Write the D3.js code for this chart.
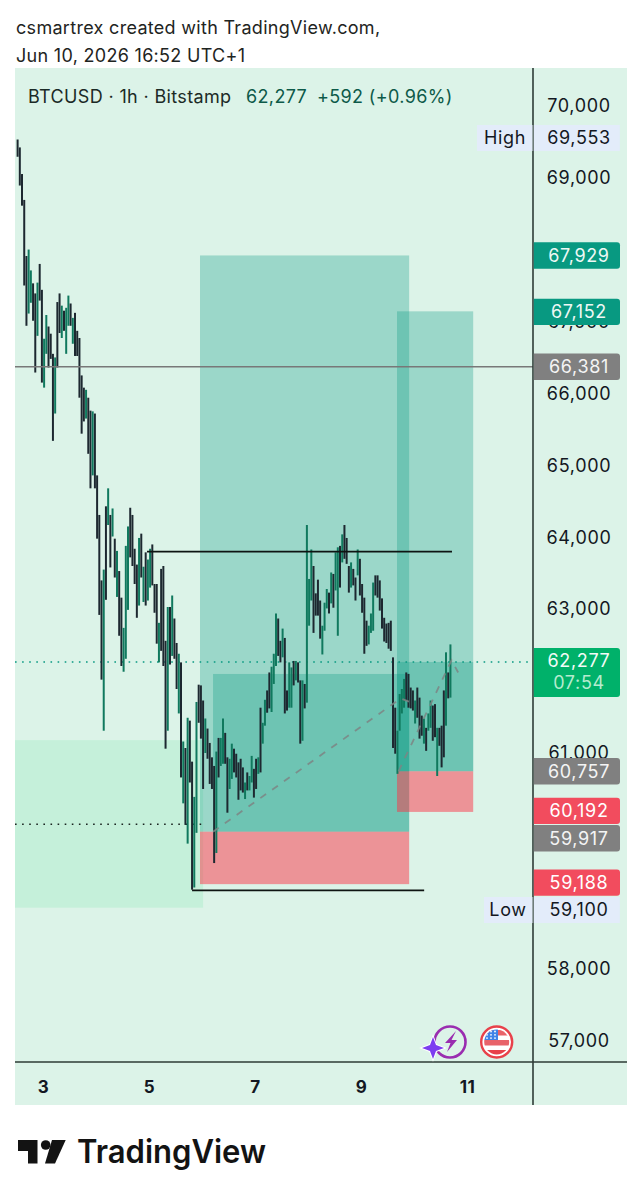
<!DOCTYPE html>
<html><head><meta charset="utf-8">
<script src="https://cdn.jsdelivr.net/npm/d3@7/dist/d3.min.js"></script>
<style>html,body{margin:0;padding:0;background:#fff}svg{display:block}text{font-family:Inter,"Open Sans",sans-serif}</style>
</head><body><svg id="c" width="642" height="1200"></svg>
<script>
// --- data ---
const headerLines = ["csmartrex created with TradingView.com,", "Jun 10, 2026 16:52 UTC+1"];
const symbolText = "BTCUSD · 1h · Bitstamp";
const quoteText = ["62,277", "+592 (+0.96%)"];
const priceTicks = [70000,69000,67000,66000,65000,64000,63000,61000,58000,57000];
const dayTicks = [3,5,7,9,11];
const firstBarHour = -11.5; // hours relative to the 3rd 00:00
const highs = [69530,69420,69050,68690,67910,68000,67710,67530,67390,67540,
67800,67440,66760,67090,66930,66830,66550,66500,67270,67390,
67220,67150,67190,67360,67250,67050,67120,66870,66770,66250,
66080,66050,65940,65760,65750,65720,64860,64310,63400,63550,
64430,64680,64310,64400,63980,63810,63530,63160,62740,63880,
64150,64410,64310,63840,63620,63990,64050,63590,63790,63690,
63840,63900,63350,63350,62810,63560,63600,62560,63030,63030,
63190,62870,62530,62380,62260,61160,61070,61490,61450,60880,
60390,61710,61950,61940,61730,61480,61340,61140,60940,60820,
61020,61210,61210,61480,61280,60940,60920,61130,61060,60990,
60870,60920,60800,60590,60730,60680,60960,60780,60920,60940,
61630,61420,61740,61870,62120,62200,62380,62940,62870,62560,
62730,62600,61870,62260,62190,62280,62280,62260,62010,62010,
61960,64170,63420,63830,63600,63220,63410,63120,62770,63090,
63280,63230,63510,63490,63790,63860,63880,64040,64170,63990,
63600,63650,63560,63440,63830,63700,63350,63160,62840,62770,
62940,63370,63470,63470,63400,63150,62880,62800,62810,62840,
62330,61630,61310,61820,61890,62030,62120,62100,61910,61870,
61730,61910,61770,61520,61480,61350,61550,61730,61660,61680,61350,
61350,61380,61870,62400,62120,62510];
const lows = [69290,68890,68610,67500,66940,67110,67260,67010,66290,66800,
67290,66150,66080,66550,66360,66480,65340,65720,66360,66840,
66770,66870,66550,66940,66940,66690,66520,66520,65940,65440,
65610,65650,65160,64680,64860,64680,63980,62920,62020,61310,
63130,64170,63580,64010,63440,63170,62630,62210,62130,62310,
62990,63720,63600,63350,62880,63050,63440,63100,63050,63120,
63300,63330,62950,62520,62260,62420,62210,61060,61310,62230,
62350,62310,61890,61550,60660,60300,60000,59740,60590,59100,
59130,59890,61420,61200,60500,61000,60920,60570,60500,59470,
59610,60660,60820,60850,60850,60170,60500,60640,60730,60660,
60350,60480,60450,60360,60480,60480,60590,60380,60500,60710,
60730,61130,61380,61560,61620,61570,61960,62210,62350,62260,
62330,61550,61590,61630,61630,61940,62010,61980,61130,61170,
61620,61700,62770,63120,62670,62910,62910,62590,62370,62700,
63010,62940,63080,63020,63260,62630,63300,63650,63700,63630,
63230,63300,63330,63120,63470,63190,62950,62380,62490,62510,
62670,62700,63190,63160,62980,62730,62550,62530,62450,62420,
61070,60990,60710,61310,61550,61630,61730,61630,61620,61590,
61410,61490,61200,61240,61130,61030,61310,61350,61170,61220,60680,
61100,60800,60940,61380,61760,61770];
const directions = ("dddddUUddU"+"ddUUdddUdd"+"UdUUdUdddd"+"dUddUd"+"dddUdUdUdU"+"ddUUUddddU"+"dUdUUdddUd"+"ddUdUddUdU"+"dUddUUdddU"+"ddddUdUUdd"+"UUdddddUdU"+"UddUdUUddU"+"UUddUddUUd"+"UddUdUUUdd"+"ddUUUdUdUU"+"dUdddUddUd"+"dddUUUdddd"+"ddddddUUUU"+"ddddUdddUd"+"UUddUdddUdU").split("");
const levelPrices = {stopLow:59188, entryA:59917, targetA:67929, stopB:60192, entryB:60757, targetB:67152, last:62277, grey:66381, resist:63810, support:59100, dotted:60020, innerA:62110, zoneTop:61190, zoneBottom:58860};
const hourMarks = {posAStart:71.1, posAInner:77, posAEnd:165.8, posBStart:160.3, posBEnd:194.8, zoneEnd:72.5, resistStart:47.1, resistEnd:185.2, supportStart:67.5, supportEnd:172.6, dottedEnd:73.4};
const arrowA = [[77,59917],[162,61770],[167,61710]];
const arrowB = [[161,60757],[185,62300],[188,62130]];
const plainTags = [[67929,"67,929","#089981","#eef8f5"],[67152,"67,152","#089981","#eef8f5"],[66381,"66,381","#808080","#f4f4f4"],[60757,"60,757","#808080","#f4f4f4"],[60192,"60,192","#f24c5e","#fff"],[59917,"59,917","#808080","#f4f4f4"],[59188,"59,188","#f24c5e","#fff"]];
const tagOffsets = [0,0.5,0,0,-1,6.5,-1.5];

// --- frame and scales ---
const svg = d3.select("#c");
const frame = {l:15, r:627, t:68, b:1105, axisX:533, axisY:1062};
const y = d3.scaleLinear().domain([70000,57000]).range([106.5,1041.5]);
const x = d3.scaleLinear().domain([0,24]).range([43,96]);
const hourOfDay = d => (d-3)*24;
const bg = "#dcf3e8", axisCol = "#2e3b36";

svg.append("rect").attr("x",frame.l).attr("y",frame.t).attr("width",frame.r-frame.l).attr("height",frame.b-frame.t).attr("fill",bg);

// highlighted zone
const m = hourMarks, L = levelPrices;
svg.append("rect").attr("x",frame.l).attr("y",y(L.zoneTop)).attr("width",x(m.zoneEnd)-frame.l).attr("height",y(L.zoneBottom)-y(L.zoneTop)).attr("fill","#c5f0da");

// positions
function box(h0,h1,p0,p1,fill,op){svg.append("rect").attr("x",x(h0)).attr("width",x(h1)-x(h0)).attr("y",y(p0)).attr("height",y(p1)-y(p0)).attr("fill",fill).attr("opacity",op);}
const teal="#089981", red="#fb3345";
box(m.posAStart,m.posAEnd,L.targetA,L.entryA,teal,.3);
box(m.posAInner,m.posAEnd,L.innerA,L.entryA,teal,.3);
box(m.posAStart,m.posAEnd,L.entryA,L.stopLow,red,.5);
box(m.posBStart,m.posBEnd,L.targetB,L.entryB,teal,.3);
box(m.posBStart,m.posBEnd,L.last,L.entryB,teal,.3);
box(m.posBStart,m.posBEnd,L.entryB,L.stopB,red,.5);

// level lines
function hline(p,h0,x0,h1,x1,col,w,dash){const l=svg.append("line").attr("x1",x0!=null?x0:x(h0)).attr("x2",x1!=null?x1:x(h1)).attr("y1",y(p)).attr("y2",y(p)).attr("stroke",col).attr("stroke-width",w);if(dash)l.attr("stroke-dasharray",dash);}
hline(L.dotted,null,frame.l,m.dottedEnd,null,"#1a2420",1.6,"1.6 5.5");
hline(L.last,null,frame.l,null,frame.axisX,"#089981",1.6,"1.6 5.5");

// bars
const barLayer = svg.append("g").attr("transform","translate(0,-0.8)");
barLayer.selectAll("line").data(highs).join("line")
 .attr("x1",(d,i)=>x(firstBarHour+i)).attr("x2",(d,i)=>x(firstBarHour+i))
 .attr("y1",d=>y(d)).attr("y2",(d,i)=>y(lows[i]))
 .attr("stroke",(d,i)=>directions[i]==="U"?"#10795e":"#1d2830").attr("stroke-width",2);

// arrows
const line = d3.line().x(d=>x(d[0])).y(d=>y(d[1]));
[arrowA,arrowB].forEach(a=>svg.append("path").attr("d",line(a)).attr("fill","none").attr("stroke","#7d8584").attr("stroke-width",1.8).attr("stroke-dasharray","7 7.5").attr("opacity",.85));

hline(L.grey,null,frame.l,null,frame.axisX,"#787878",1.6);
hline(L.resist,m.resistStart,null,m.resistEnd,null,"#0e1412",1.8);
hline(L.support,m.supportStart,null,m.supportEnd,null,"#0e1412",1.8);

// axes frame
svg.append("line").attr("x1",frame.axisX).attr("x2",frame.axisX).attr("y1",frame.t).attr("y2",frame.b).attr("stroke",axisCol).attr("stroke-width",1.6);
svg.append("line").attr("x1",frame.l).attr("x2",frame.r).attr("y1",frame.axisY).attr("y2",frame.axisY).attr("stroke",axisCol).attr("stroke-width",1.6);

// price axis
const fmt = d3.format(",");
const yAxis = d3.axisRight(y).tickValues(priceTicks).tickFormat(fmt).tickSize(0).tickPadding(0);
const ya = svg.append("g").attr("transform","translate(579,-1.5)").call(yAxis);
ya.select(".domain").remove();
ya.selectAll("text").attr("text-anchor","middle").attr("font-size",18).attr("letter-spacing",.65).attr("fill","#131722").attr("dy","0.36em");

// date axis
const xAxis = d3.axisBottom(x).tickValues(dayTicks.map(hourOfDay)).tickFormat(h=>h/24+3).tickSize(0).tickPadding(0);
const xa = svg.append("g").attr("transform","translate(0,1084)").call(xAxis);
xa.select(".domain").remove();
xa.selectAll("text").attr("font-size",17).attr("font-weight",700).attr("fill","#131722").attr("letter-spacing",.4).attr("dy","0.5em");

// price tags
function tag(cy,h,fill,r){const p=`M${frame.axisX+.8},${cy-h/2}H${620-r}a${r},${r} 0 0 1 ${r},${r}V${cy+h/2-r}a${r},${r} 0 0 1 ${-r},${r}H${frame.axisX+.8}Z`;svg.append("path").attr("d",p).attr("fill",fill);}
function label(cx,cy,t,col,size,anchor){svg.append("text").attr("x",cx).attr("y",cy).attr("dy","0.36em").attr("text-anchor",anchor||"middle").attr("font-size",size||18).attr("letter-spacing",.65).attr("fill",col).text(t);}
plainTags.forEach((d,i)=>{const cy=y(d[0])+tagOffsets[i];tag(cy,26.4,d[2],3);label(579,cy,d[1],d[3]);});
// last price
tag(672.5,49,"#00b16a",3);
label(579,661,"62,277","#f2fbf7");label(579,683,"07:54","#b5ebcf");
// high and low
const tabFill="#e3ecfa";
svg.append("rect").attr("x",477).attr("y",125).attr("width",55.5).attr("height",26).attr("fill",tabFill);
svg.append("rect").attr("x",frame.axisX+.8).attr("y",125).attr("width",86).attr("height",26).attr("fill",tabFill);
label(505,138,"High","#131722");label(579,138,"69,553","#131722");
svg.append("rect").attr("x",484).attr("y",897).attr("width",48.5).attr("height",26).attr("fill",tabFill);
svg.append("rect").attr("x",frame.axisX+.8).attr("y",897).attr("width",86).attr("height",26).attr("fill",tabFill);
label(508,910,"Low","#131722");label(579,910,"59,100","#131722");

// header and legend
headerLines.forEach((t,i)=>svg.append("text").attr("x",16).attr("y",34+i*28).attr("font-size",18).attr("letter-spacing",.3).attr("fill","#1e2422").text(t));
svg.append("text").attr("x",28).attr("y",103).attr("font-size",18).attr("letter-spacing",.35).attr("fill","#1b2a26").text(symbolText);
svg.append("text").attr("x",246).attr("y",103).attr("font-size",18).attr("letter-spacing",.35).attr("fill","#0d5a49").text(quoteText[0]);
svg.append("text").attr("x",317).attr("y",103).attr("font-size",18).attr("letter-spacing",.35).attr("fill","#0d5a49").text(quoteText[1]);

// event icons
const ic = svg.append("g");
ic.append("circle").attr("cx",450).attr("cy",1042).attr("r",15.5).attr("fill",bg).attr("stroke","#9a2db0").attr("stroke-width",2.6);
ic.append("path").attr("d","M456,1031 L445,1043 L450.5,1043 L447,1052 L457,1040 L451.5,1040 Z").attr("fill","#9a2db0");
ic.append("path").attr("d","M433,1037 L436,1045 L444,1048 L436,1051 L433,1059 L430,1051 L422,1048 L430,1045 Z").attr("fill","#7c3df0").attr("stroke","#fff").attr("stroke-width",2).attr("paint-order","stroke");
const fl = svg.append("g");
fl.append("circle").attr("cx",496.7).attr("cy",1042).attr("r",15.5).attr("fill","#fff").attr("stroke","#e8414a").attr("stroke-width",2.4);
fl.append("clipPath").attr("id","fc").append("circle").attr("cx",496.7).attr("cy",1042).attr("r",12.5);
const fg = fl.append("g").attr("clip-path","url(#fc)");
[1030,1040,1050].forEach((s,i)=>fg.append("rect").attr("x",480).attr("y",s).attr("width",34).attr("height",i==2?6:5.5).attr("fill",i==2?"#e8414a":"#e8636a"));
fg.append("rect").attr("x",484).attr("y",1029).attr("width",14).attr("height",11).attr("fill","#3f83e8");
d3.range(3).forEach(r=>d3.range(3).forEach(c=>fg.append("circle").attr("cx",487+c*4).attr("cy",1031.5+r*3.3).attr("r",.9).attr("fill","#fff")));

// brand
const br = svg.append("g").attr("fill","#131313");
br.append("path").attr("d","M18,1140H37.5V1163.5H28V1151H18Z");
br.append("circle").attr("cx",45.7).attr("cy",1145).attr("r",4.8);
br.append("path").attr("d","M52,1140H65.7L55,1163.5H45Z");
br.append("text").attr("x",77).attr("y",1163).attr("font-size",32).attr("font-weight",600).attr("textLength",189).attr("lengthAdjust","spacingAndGlyphs").text("TradingView");
</script></body></html>
